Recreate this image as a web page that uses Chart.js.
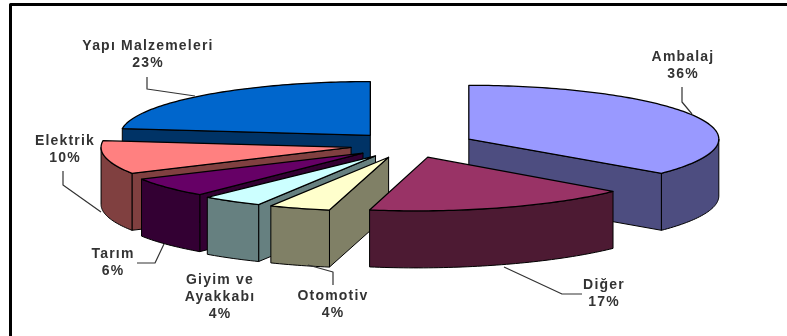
<!DOCTYPE html>
<html lang="tr">
<head>
<meta charset="utf-8">
<title>Sektörlere göre dağılım</title>
<script src="https://cdn.jsdelivr.net/npm/chart.js@4/dist/chart.umd.min.js"></script>
<style>
  html, body { margin: 0; padding: 0; background: #fff; }
  canvas { display: block; }
</style>
</head>
<body>
<canvas id="pie" width="787" height="336"></canvas>
<script>
// Sector shares, clockwise from twelve o'clock
const categories = ['Ambalaj', 'Diğer', 'Otomotiv', 'Giyim ve\nAyakkabı', 'Tarım', 'Elektrik', 'Yapı Malzemeleri'];
const shares = [36, 17, 4, 4, 6, 10, 23];
const topColors = ['#9999FF', '#993366', '#FFFFCC', '#CCFFFF', '#660066', '#FF8080', '#0066CC'];
const sideColors = ['#4D4D80', '#4D1A33', '#808066', '#668080', '#330033', '#804040', '#003366'];

// Back-to-front painting order of the slices
const paintOrder = [6, 0, 5, 4, 3, 2, 1];

// Projection of the tilted pie
const tilt = 0.215;     // vertical squash of the disc
const depth = 57;       // wall height in pixels
// Distance each slice is pulled out from the centre
const explode = [65, 60, 60, 60, 60, 60, 60];
// Sideways lean per slice: the near slices drift left, the far ones stay upright
const lean = [0, -0.046, -0.05, -0.046, -0.02, 0, 0];

// Label centres and leader polylines, same order as categories
const labelCenters = [[683, 57], [604, 285], [333, 296], [220, 280], [113, 254], [65, 141], [148, 46]];
const leaders = [
  [[682, 87], [682, 102], [692, 114]],
  [[504, 267], [562, 294], [582, 294]],
  [[308, 265], [333, 272], [333, 285]],
  [],
  [[164, 244], [155, 263], [137, 263]],
  [[63, 171], [63, 185], [101, 212]],
  [[147, 77], [147, 89], [195, 96]]
];
const lineHeight = 17;

const projectedPie = {
  id: 'projectedPie',
  beforeDatasetsDraw(chart) {
    const { ctx } = chart;
    const arcs = chart.getDatasetMeta(0).data;
    const cx = arcs[0].x;
    const cy = arcs[0].y;

    const tracePath = (pts, fill, stroke, width) => {
      ctx.beginPath();
      pts.forEach((p, i) => (i ? ctx.lineTo(p[0], p[1]) : ctx.moveTo(p[0], p[1])));
      ctx.closePath();
      if (fill) { ctx.fillStyle = fill; ctx.fill(); }
      ctx.lineWidth = width;
      ctx.lineJoin = 'round';
      ctx.strokeStyle = stroke;
      ctx.stroke();
    };

    const wall = (topEdge, fill) => {
      const lower = topEdge.slice().reverse().map(p => [p[0], p[1] + depth]);
      tracePath(topEdge.concat(lower), fill, '#000', 1);
    };

    paintOrder.forEach(i => {
      const arc = arcs[i];
      const start = arc.startAngle;
      const end = arc.endAngle;
      const mid = (start + end) / 2;
      const shift = [explode[i] * Math.cos(mid), explode[i] * Math.sin(mid)];
      const side = sideColors[i];

      // Local pie coordinates to screen coordinates for this slice
      const toScreen = (lx, ly) => [cx + lx + lean[i] * ly, cy + tilt * ly];
      const rimPoints = (from, to) => {
        const steps = Math.max(1, Math.ceil(Math.abs(to - from) / 0.02));
        const pts = [];
        for (let k = 0; k <= steps; k++) {
          const a = from + (to - from) * k / steps;
          pts.push(toScreen(shift[0] + arc.outerRadius * Math.cos(a), shift[1] + arc.outerRadius * Math.sin(a)));
        }
        return pts;
      };
      const tip = toScreen(shift[0], shift[1]);

      // Cut faces, only those turned towards the viewer
      if (Math.cos(start) < 0) wall([tip, rimPoints(start, start)[0]], side);
      if (Math.cos(end) > 0) wall([tip, rimPoints(end, end)[0]], side);

      // Outer wall on the near half of the disc
      const from = Math.max(start, 0);
      const to = Math.min(end, Math.PI);
      if (to > from) wall(rimPoints(from, to), side);

      // Top face comes from the library's arc element
      ctx.save();
      ctx.translate(cx, cy);
      ctx.transform(1, 0, lean[i], tilt, 0, 0);
      ctx.translate(-cx + shift[0], -cy + shift[1]);
      arc.draw(ctx);
      ctx.restore();
      tracePath([tip].concat(rimPoints(start, end)), null, '#000', 1.3);
    });
    return false;
  },
  afterDraw(chart) {
    const { ctx } = chart;

    // Frame along the top and left of the figure
    ctx.strokeStyle = '#000';
    ctx.lineWidth = 3;
    ctx.beginPath();
    ctx.moveTo(10.5, 336);
    ctx.lineTo(10.5, 4.5);
    ctx.lineTo(787, 4.5);
    ctx.stroke();

    // Leader lines
    ctx.strokeStyle = '#333';
    ctx.lineWidth = 1.2;
    leaders.forEach(path => {
      if (!path.length) return;
      ctx.beginPath();
      path.forEach((p, i) => (i ? ctx.lineTo(p[0], p[1]) : ctx.moveTo(p[0], p[1])));
      ctx.stroke();
    });

    // Category name with its share underneath
    ctx.fillStyle = '#333';
    ctx.font = 'bold 14px "Liberation Sans", Arial, sans-serif';
    ctx.letterSpacing = '1.2px';
    ctx.textAlign = 'center';
    ctx.textBaseline = 'middle';
    categories.forEach((name, i) => {
      const lines = name.split('\n').concat(shares[i] + '%');
      lines.forEach((text, k) => {
        ctx.fillText(text, labelCenters[i][0], labelCenters[i][1] + k * lineHeight);
      });
    });
  }
};

new Chart(document.getElementById('pie'), {
  type: 'pie',
  data: {
    labels: categories,
    datasets: [{
      data: shares,
      backgroundColor: topColors,
      borderWidth: 0
    }]
  },
  options: {
    responsive: false,
    animation: false,
    events: [],
    radius: 250,
    layout: { padding: { left: 33, bottom: 46 } },
    plugins: { legend: { display: false }, tooltip: { enabled: false } }
  },
  plugins: [projectedPie]
});
</script>
</body>
</html>
